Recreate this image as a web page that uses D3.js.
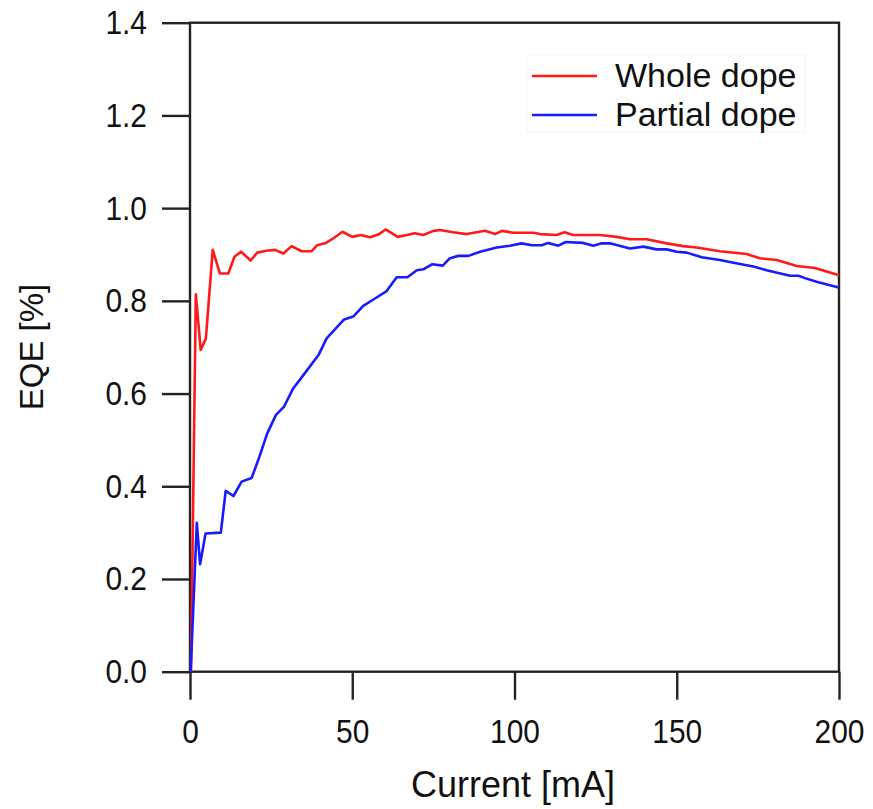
<!DOCTYPE html>
<html>
<head>
<meta charset="utf-8">
<script src="https://cdn.jsdelivr.net/npm/d3@7"></script>
<style>
  html, body { margin: 0; padding: 0; background: #fff; }
  svg { display: block; }
  .txt { font-family: "Liberation Sans", Arial, sans-serif; fill: #111; }
  .num { font-family: "Liberation Sans", Arial, sans-serif; fill: #111; }
</style>
</head>
<body>
<svg id="chart" width="873" height="809"></svg>
<script>
// Whole dope: current [mA] and EQE [%]
const wholeCurrent = [0.3, 1.8, 3.3, 4.9, 7.0, 9.2, 11.8, 13.7, 15.7, 18.7, 20.7, 23.6, 26.2, 28.8, 31.3, 34.4, 37.5, 39.2, 41.9, 44.2, 47.0, 50.0, 52.6, 55.5, 58.0, 60.3, 64.0, 66.8, 69.3, 71.9, 75.0, 77.0, 81.1, 85.3, 90.9, 94.0, 96.1, 99.6, 105.8, 107.9, 113.0, 115.4, 118.1, 126.3, 131.5, 135.6, 140.7, 146.9, 152.0, 156.1, 163.3, 171.5, 175.6, 180.8, 187.0, 192.6, 200];
const wholeEQE = [0, 0.814, 0.694, 0.719, 0.910, 0.859, 0.859, 0.895, 0.906, 0.887, 0.904, 0.908, 0.910, 0.902, 0.918, 0.907, 0.907, 0.920, 0.925, 0.935, 0.949, 0.938, 0.942, 0.937, 0.943, 0.954, 0.938, 0.942, 0.946, 0.942, 0.951, 0.953, 0.948, 0.944, 0.951, 0.944, 0.951, 0.947, 0.947, 0.944, 0.942, 0.948, 0.942, 0.942, 0.938, 0.933, 0.933, 0.924, 0.918, 0.915, 0.907, 0.901, 0.892, 0.888, 0.875, 0.871, 0.855];

// Partial dope: current [mA] and EQE [%]
const partialCurrent = [0.2, 2.1, 3.1, 4.8, 9.5, 11.0, 13.4, 15.9, 19.0, 21.4, 23.8, 26.5, 29.0, 31.8, 35.4, 39.6, 42.1, 47.5, 50.3, 53.4, 57.0, 60.6, 63.7, 67.0, 69.9, 71.9, 74.7, 77.9, 80.1, 82.7, 85.8, 89.4, 94.5, 98.6, 102.2, 105.3, 108.4, 110.4, 113.5, 115.8, 121.2, 124.3, 126.9, 129.4, 135.6, 139.7, 143.8, 146.9, 150.0, 153.1, 157.7, 163.3, 167.5, 173.6, 177.7, 184.9, 187.5, 189.5, 193.1, 199.3, 200];
const partialEQE = [0, 0.321, 0.232, 0.298, 0.300, 0.390, 0.379, 0.410, 0.418, 0.464, 0.514, 0.554, 0.572, 0.611, 0.644, 0.683, 0.719, 0.760, 0.766, 0.789, 0.805, 0.821, 0.851, 0.851, 0.866, 0.868, 0.879, 0.876, 0.892, 0.897, 0.897, 0.906, 0.915, 0.919, 0.924, 0.920, 0.920, 0.925, 0.919, 0.927, 0.925, 0.919, 0.924, 0.924, 0.913, 0.917, 0.911, 0.911, 0.906, 0.904, 0.894, 0.888, 0.882, 0.874, 0.866, 0.854, 0.854, 0.849, 0.841, 0.830, 0.828];

const seriesNames = ["Whole dope", "Partial dope"];
const seriesColors = ["#ff1a1a", "#1a1aff"];
const xTicks = [0, 50, 100, 150, 200];
const yTicks = [0.0, 0.2, 0.4, 0.6, 0.8, 1.0, 1.2, 1.4];
const xTitle = "Current [mA]";
const yTitle = "EQE [%]";

const svg = d3.select("#chart");
const plotLeft = 190, plotRight = 839, plotTop = 22.7, plotBottom = 671.7;
const tickLen = 28;
const numSqueeze = 0.88; // tick numerals are drawn slightly condensed

const x = d3.scaleLinear().domain([0, 200]).range([plotLeft, plotRight]);
const y = d3.scaleLinear().domain([0, 1.4]).range([plotBottom, plotTop]);

const axisColor = "#222";
const axisWidth = 2.4;

// Plot frame
svg.append("rect")
  .attr("x", plotLeft).attr("y", plotTop)
  .attr("width", plotRight - plotLeft).attr("height", plotBottom - plotTop)
  .attr("fill", "none").attr("stroke", axisColor).attr("stroke-width", axisWidth);

// Left axis: ticks point outward
const yAxis = svg.append("g")
  .attr("transform", `translate(${plotLeft},0)`)
  .call(d3.axisLeft(y).tickValues(yTicks).tickFormat(d3.format(".1f")).tickSize(tickLen).tickPadding(15));
yAxis.select(".domain").remove();
yAxis.selectAll(".tick line").attr("stroke", axisColor).attr("stroke-width", axisWidth);
yAxis.selectAll(".tick text")
  .attr("class", "num").attr("font-size", 34).attr("fill", "#111")
  .attr("x", -(tickLen + 15) / numSqueeze)
  .attr("transform", `scale(${numSqueeze},1)`);

// Bottom axis
const xAxis = svg.append("g")
  .attr("transform", `translate(0,${plotBottom})`)
  .call(d3.axisBottom(x).tickValues(xTicks).tickFormat(d3.format("d")).tickSize(tickLen).tickPadding(19));
xAxis.select(".domain").remove();
xAxis.selectAll(".tick line").attr("stroke", axisColor).attr("stroke-width", axisWidth);
xAxis.selectAll(".tick text")
  .attr("class", "num").attr("font-size", 34).attr("fill", "#111")
  .attr("transform", `scale(${numSqueeze},1)`);

// Axis titles
svg.append("text").attr("class", "txt")
  .attr("x", 513).attr("y", 797)
  .attr("text-anchor", "middle").attr("font-size", 36)
  .text(xTitle);

svg.append("text").attr("class", "txt")
  .attr("transform", `translate(43,${347}) rotate(-90)`)
  .attr("text-anchor", "middle").attr("font-size", 33)
  .text(yTitle);

// Curves
const line = d3.line().x(d => x(d[0])).y(d => y(d[1]));
const series = [
  d3.zip(wholeCurrent, wholeEQE),
  d3.zip(partialCurrent, partialEQE)
];
const plot = svg.append("g");
series.forEach((pts, i) => {
  plot.append("path")
    .datum(pts)
    .attr("d", line)
    .attr("fill", "none")
    .attr("stroke", seriesColors[i])
    .attr("stroke-width", 2.6)
    .attr("stroke-linejoin", "round");
});

// Legend
const legend = svg.append("g");
legend.append("rect")
  .attr("x", 527).attr("y", 55).attr("width", 278).attr("height", 77)
  .attr("fill", "#fff").attr("stroke", "#f6f6f6").attr("stroke-width", 1);
seriesNames.forEach((name, i) => {
  const ly = 76 + i * 39;
  legend.append("line")
    .attr("x1", 532).attr("x2", 597).attr("y1", ly).attr("y2", ly)
    .attr("stroke", seriesColors[i]).attr("stroke-width", 2.6);
  legend.append("text").attr("class", "txt")
    .attr("x", 615).attr("y", ly + 11)
    .attr("font-size", 34)
    .text(name);
});
</script>
</body>
</html>
